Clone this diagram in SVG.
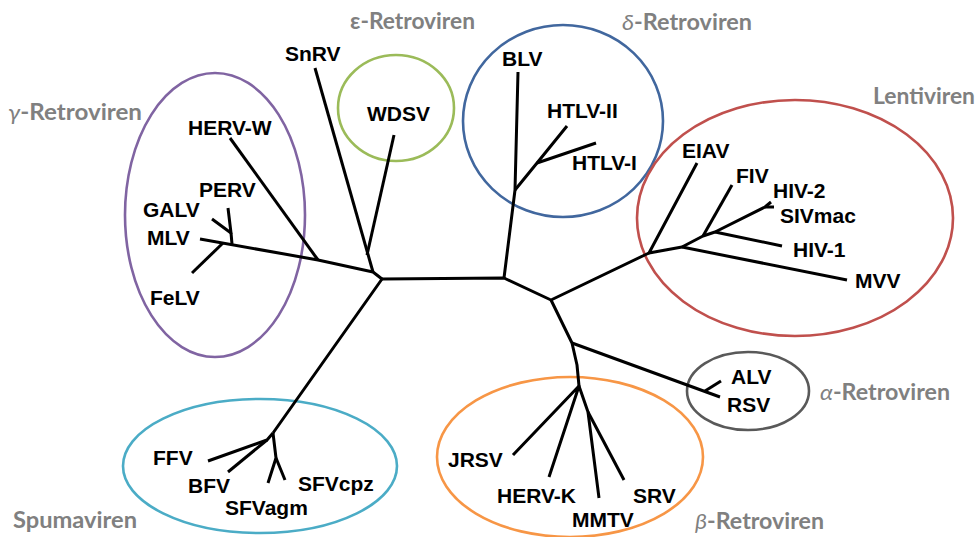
<svg xmlns="http://www.w3.org/2000/svg" width="978" height="537" viewBox="0 0 978 537">
<style>
.clade{fill:none;stroke-width:2.6}
.br{fill:none;stroke:#000;stroke-width:3;stroke-linecap:butt;stroke-linejoin:round}
.leaf{font-family:"Liberation Sans",Arial,sans-serif;font-weight:bold;font-size:21px;fill:#000}
.grp{font-family:Lato,"Open Sans",sans-serif;font-weight:bold;font-size:22px;fill:#808080}
.gk{font-style:italic;font-weight:normal}
</style>
<rect width="978" height="537" fill="#fff"/>
<g id="clades">
<g id="clade-gamma"><ellipse class="clade" stroke="#8064a2" cx="215" cy="215" rx="90" ry="142"/><text class="grp" x="8" y="120" textLength="134" lengthAdjust="spacingAndGlyphs"><tspan class="gk">γ</tspan>-Retroviren</text></g>
<g id="clade-epsilon"><ellipse class="clade" stroke="#9bbb59" cx="396" cy="108" rx="58" ry="53"/><text class="grp" x="350" y="29" textLength="125" lengthAdjust="spacingAndGlyphs">ε-Retroviren</text></g>
<g id="clade-delta"><ellipse class="clade" stroke="#41679e" cx="563" cy="121" rx="100" ry="96"/><text class="grp" x="622" y="30" textLength="130" lengthAdjust="spacingAndGlyphs"><tspan class="gk">δ</tspan>-Retroviren</text></g>
<g id="clade-lenti"><ellipse class="clade" stroke="#c0504d" cx="795" cy="218" rx="158" ry="118"/><text class="grp" x="873" y="104" textLength="102" lengthAdjust="spacingAndGlyphs">Lentiviren</text></g>
<g id="clade-alpha"><ellipse class="clade" stroke="#595959" cx="748" cy="391" rx="61" ry="39"/><text class="grp" x="820" y="400" textLength="130" lengthAdjust="spacingAndGlyphs"><tspan class="gk">α</tspan>-Retroviren</text></g>
<g id="clade-beta"><ellipse class="clade" stroke="#f79646" cx="570" cy="457" rx="133" ry="80"/><text class="grp" x="695" y="529" textLength="129" lengthAdjust="spacingAndGlyphs"><tspan class="gk">β</tspan>-Retroviren</text></g>
<g id="clade-spuma"><ellipse class="clade" stroke="#4bacc6" cx="260" cy="466" rx="137" ry="67"/><text class="grp" x="13" y="528" textLength="124" lengthAdjust="spacingAndGlyphs">Spumaviren</text></g>
</g>
<g id="connectors">
<polyline class="br" points="382,279 504,278 551,300 649,253"/>
<polyline class="br" points="551,300 572,343 577,365 579,386"/>
<polyline class="br" points="200,239 318,260 373,272 382,279 273,433"/>
<polyline class="br" points="315,68 373,272"/>
<polyline class="br" points="394,135 367,255"/>
<polyline class="br" points="230,138 318,260"/>
<polyline class="br" points="228,208 231,233 212,219"/>
<polyline class="br" points="231,233 232,244"/>
<polyline class="br" points="192,273 223,243"/>
<polyline class="br" points="518,72 515,190 504,278"/>
<polyline class="br" points="515,190 537,163 567,126"/>
<polyline class="br" points="537,163 596,143"/>
<polyline class="br" points="697,163 649,253 682,247 703,236 715,232 765,207 771,202"/>
<polyline class="br" points="765,207 774,207"/>
<polyline class="br" points="682,247 847,280"/>
<polyline class="br" points="703,236 732,185"/>
<polyline class="br" points="715,232 782,246"/>
<polyline class="br" points="572,343 720,397"/>
<polyline class="br" points="705,391 721,381"/>
<polyline class="br" points="513,455 579,386 549,477"/>
<polyline class="br" points="579,386 588,412 599,498"/>
<polyline class="br" points="588,412 624,480"/>
<polyline class="br" points="273,433 267,440 208,461"/>
<polyline class="br" points="267,440 228,472"/>
<polyline class="br" points="273,433 276,458 268,483"/>
<polyline class="br" points="276,458 285,480"/>
</g>
<g id="leaves">
<g id="n-hervw"><text class="leaf" x="188" y="135">HERV-W</text></g>
<g id="n-perv"><text class="leaf" x="199" y="197">PERV</text></g>
<g id="n-galv"><text class="leaf" x="143" y="217">GALV</text></g>
<g id="n-mlv"><text class="leaf" x="147" y="245">MLV</text></g>
<g id="n-felv"><text class="leaf" x="150" y="305">FeLV</text></g>
<g id="n-snrv"><text class="leaf" x="285" y="61">SnRV</text></g>
<g id="n-wdsv"><text class="leaf" x="367" y="121">WDSV</text></g>
<g id="n-blv"><text class="leaf" x="502" y="66">BLV</text></g>
<g id="n-htlv2"><text class="leaf" x="547" y="118">HTLV-II</text></g>
<g id="n-htlv1"><text class="leaf" x="572" y="170">HTLV-I</text></g>
<g id="n-eiav"><text class="leaf" x="682" y="158">EIAV</text></g>
<g id="n-fiv"><text class="leaf" x="736" y="183">FIV</text></g>
<g id="n-hiv2"><text class="leaf" x="773" y="198">HIV-2</text></g>
<g id="n-sivmac"><text class="leaf" x="780" y="223">SIVmac</text></g>
<g id="n-hiv1"><text class="leaf" x="793" y="257">HIV-1</text></g>
<g id="n-mvv"><text class="leaf" x="855" y="288">MVV</text></g>
<g id="n-alv"><text class="leaf" x="731" y="384">ALV</text></g>
<g id="n-rsv"><text class="leaf" x="727" y="412">RSV</text></g>
<g id="n-jrsv"><text class="leaf" x="448" y="467">JRSV</text></g>
<g id="n-hervk"><text class="leaf" x="497" y="503">HERV-K</text></g>
<g id="n-mmtv"><text class="leaf" x="572" y="527">MMTV</text></g>
<g id="n-srv"><text class="leaf" x="633" y="503">SRV</text></g>
<g id="n-ffv"><text class="leaf" x="153" y="465">FFV</text></g>
<g id="n-bfv"><text class="leaf" x="188" y="493">BFV</text></g>
<g id="n-sfvagm"><text class="leaf" x="225" y="515">SFVagm</text></g>
<g id="n-sfvcpz"><text class="leaf" x="298" y="491">SFVcpz</text></g>
</g>
</svg>
